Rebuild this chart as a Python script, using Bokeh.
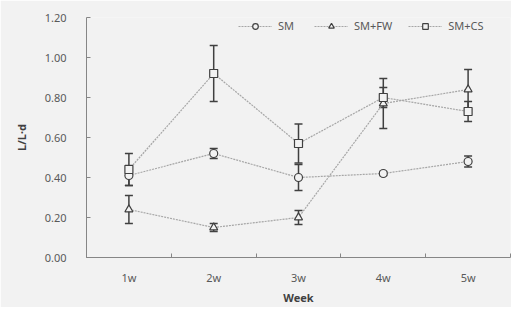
from bokeh.plotting import figure
from bokeh.models import (ColumnDataSource, Whisker, TeeHead, Legend, LegendItem,
                          FixedTicker, Range1d)
from bokeh.embed import file_html
from bokeh.resources import INLINE

weeks = ["1w", "2w", "3w", "4w", "5w"]
sm = [0.41, 0.52, 0.40, 0.42, 0.48]
sm_err = [0.05, 0.025, 0.065, 0.01, 0.027]
fw = [0.24, 0.15, 0.20, 0.77, 0.84]
fw_err = [0.07, 0.02, 0.035, 0.125, 0.10]
cs = [0.44, 0.92, 0.57, 0.80, 0.73]
cs_err = [0.08, 0.14, 0.097, 0.05, 0.05]
yticks = [0.0, 0.2, 0.4, 0.6, 0.8, 1.0, 1.2]

BG = "#f2f2f2"
AX = "#868686"
TXT = "#595959"
FONT = "Noto Sans"

xpos = list(range(1, len(weeks) + 1))

p = figure(width=511, height=307, output_backend="svg", toolbar_location=None,
           x_range=Range1d(0.5, len(weeks) + 0.5), y_range=Range1d(0, 1.2),
           min_border_left=86, min_border_right=1, min_border_top=17, min_border_bottom=40)
p.background_fill_color = BG
p.border_fill_color = BG
p.outline_line_color = None
p.grid.visible = False

p.xaxis.ticker = FixedTicker(ticks=xpos, minor_ticks=[i + 0.5 for i in range(len(weeks) + 1)] + [0.5])
p.xaxis.major_label_overrides = {i: w for i, w in zip(xpos, weeks)}
p.xaxis.major_tick_line_color = None
p.xaxis.major_tick_in = 0
p.xaxis.major_tick_out = 0
p.xaxis.minor_tick_in = 4
p.xaxis.minor_tick_out = 0
p.xaxis.minor_tick_line_color = AX
p.xaxis.axis_line_color = AX
p.xaxis.major_label_standoff = 12
p.xaxis.axis_label = "Week"
p.xaxis.axis_label_standoff = 2

p.yaxis.ticker = FixedTicker(ticks=yticks)
p.yaxis.major_label_overrides = {t: f"{t:.2f}" for t in yticks}
p.yaxis.major_tick_in = 4
p.yaxis.major_tick_out = 0
p.yaxis.major_tick_line_color = AX
p.yaxis.minor_tick_line_color = None
p.yaxis.axis_line_color = AX
p.yaxis.major_label_standoff = 20
p.yaxis.axis_label = "L/L·d"
p.yaxis.axis_label_standoff = 13

for ax in (p.xaxis, p.yaxis):
    ax.major_label_text_font = FONT
    ax.major_label_text_font_size = "11px"
    ax.major_label_text_color = TXT
    ax.axis_label_text_font = FONT
    ax.axis_label_text_font_size = "11px"
    ax.axis_label_text_font_style = "bold"
    ax.axis_label_text_color = "#404040"

series = [("SM", sm, sm_err, "circle"), ("SM+FW", fw, fw_err, "triangle"), ("SM+CS", cs, cs_err, "square")]
items = []
MK = "#404040"
for name, vals, errs, marker in series:
    src = ColumnDataSource(dict(x=xpos, y=vals,
                                upper=[v + e for v, e in zip(vals, errs)],
                                lower=[v - e for v, e in zip(vals, errs)]))
    lr = p.line("x", "y", source=src, line_color="#a6a6a6", line_width=1.2, line_dash="2 1")
    w = Whisker(base="x", upper="upper", lower="lower", source=src, line_color=MK, line_width=1.5,
                upper_head=TeeHead(size=8, line_color=MK, line_width=1.5),
                lower_head=TeeHead(size=8, line_color=MK, line_width=1.5))
    p.add_layout(w)
    mr = p.scatter("x", "y", source=src, marker=marker, size=8, line_color=MK, line_width=1.2,
                   fill_color=BG)
    items.append(LegendItem(label=name, renderers=[lr, mr]))

legend = Legend(items=items, orientation="horizontal", location=(152, 224),
                background_fill_alpha=0, border_line_color=None, padding=0, margin=0,
                glyph_width=34, glyph_height=14, label_standoff=6, spacing=16,
                label_text_font=FONT, label_text_font_size="11px", label_text_color=TXT)
p.add_layout(legend)

open("out.html", "w").write(file_html(p, INLINE))
